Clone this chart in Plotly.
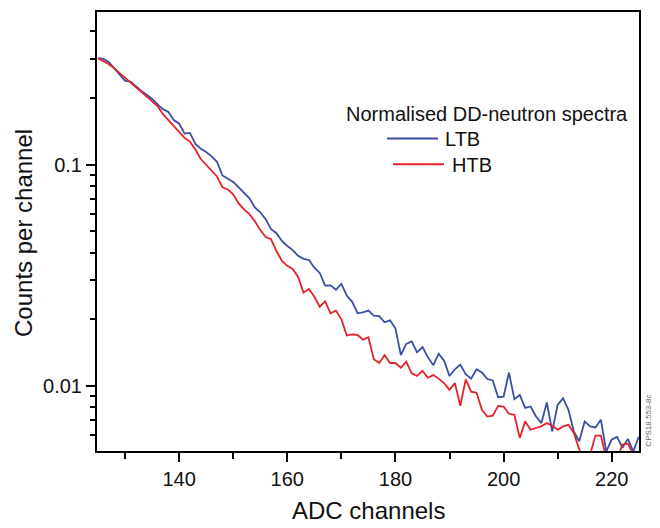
import plotly.graph_objects as go

# ADC channel numbers
channels = list(range(125, 226))

# Normalised DD-neutron spectra (counts per channel)
ltb = [
    0.303, 0.300, 0.290, 0.272, 0.256, 0.239, 0.237, 0.225, 0.215, 0.207,   # 125-134
    0.198, 0.187, 0.178, 0.173, 0.159, 0.153, 0.138, 0.139, 0.124, 0.118,   # 135-144
    0.114, 0.109, 0.103, 0.0893, 0.0865, 0.0835, 0.0789, 0.0749, 0.0704, 0.0641,  # 145-154
    0.0609, 0.0567, 0.0511, 0.0490, 0.0452, 0.0429, 0.0411, 0.0387, 0.0375, 0.0371,  # 155-164
    0.0342, 0.0324, 0.0284, 0.0285, 0.0272, 0.0289, 0.0256, 0.0240, 0.0213, 0.0215,  # 165-174
    0.0219, 0.0208, 0.0207, 0.0194, 0.0198, 0.0182, 0.0138, 0.0155, 0.0159, 0.0142,  # 175-184
    0.0150, 0.0135, 0.0124, 0.0140, 0.0130, 0.0111, 0.0119, 0.0125, 0.0113, 0.0108,  # 185-194
    0.0119, 0.0115, 0.01075, 0.0106, 0.0089, 0.00895, 0.0115, 0.00872, 0.00911, 0.00797,  # 195-204
    0.00808, 0.00728, 0.00680, 0.00842, 0.00624, 0.00822, 0.00881, 0.00780, 0.00624, 0.00563,  # 205-214
    0.00692, 0.00657, 0.00650, 0.00704, 0.00506, 0.00573, 0.00589, 0.00526, 0.00577, 0.00506,  # 215-224
    0.0059,  # 225
]

htb = [
    0.302, 0.293, 0.284, 0.272, 0.259, 0.246, 0.234, 0.224, 0.213, 0.204,   # 125-134
    0.194, 0.184, 0.169, 0.159, 0.150, 0.141, 0.132, 0.127, 0.117, 0.106,   # 135-144
    0.100, 0.0947, 0.0884, 0.0789, 0.0772, 0.0734, 0.0668, 0.0628, 0.0597, 0.0555,  # 145-154
    0.0506, 0.0471, 0.0460, 0.0407, 0.0367, 0.0349, 0.0338, 0.0311, 0.0264, 0.0274,  # 155-164
    0.0253, 0.0228, 0.0241, 0.0213, 0.0219, 0.0200, 0.0169, 0.0171, 0.0170, 0.0162,  # 165-174
    0.0166, 0.0132, 0.0127, 0.0138, 0.0127, 0.0127, 0.0121, 0.0129, 0.0114, 0.0111,  # 175-184
    0.0117, 0.0109, 0.0112, 0.0108, 0.0103, 0.0096, 0.0103, 0.00813, 0.0107, 0.00943,  # 185-194
    0.00933, 0.00780, 0.00728, 0.00734, 0.00813, 0.00808, 0.00749, 0.00741, 0.00583, 0.00692,  # 195-204
    0.00635, 0.00646, 0.00657, 0.00680, 0.00662, 0.00635, 0.00657, 0.00668, 0.00614, 0.00516,  # 205-214
    0.0046, 0.0049, 0.00597, 0.00597, 0.0047, 0.0045, 0.0047, 0.00544, 0.00549, 0.0049,  # 215-224
    0.0047,  # 225
]

series_names = ["LTB", "HTB"]
series_colors = ["#3a4fa3", "#e8202a"]
legend_title = "Normalised DD-neutron spectra"

x_major = [140, 160, 180, 200, 220]
x_minor = [130, 150, 170, 190, 210]
y_major = [0.01, 0.1]
y_major_text = ["0.01", "0.1"]
y_minor = [0.006, 0.007, 0.008, 0.009, 0.02, 0.03, 0.04, 0.05, 0.06, 0.07,
           0.08, 0.09, 0.2, 0.3, 0.4]

FONT = "Liberation Sans, Arial, sans-serif"

fig = go.Figure()
for name, ys, col in zip(series_names, [ltb, htb], series_colors):
    fig.add_trace(go.Scatter(x=channels, y=ys, mode="lines", name=name,
                             line=dict(color=col, width=1.8),
                             showlegend=False))

W, H = 660, 528
L, R, T, B = 97, 21, 10, 77
pw, ph = W - L - R, H - T - B


def px(xp):
    return (xp - L) / pw


def py(yp):
    return (H - B - yp) / ph


fig.update_layout(
    width=W, height=H,
    margin=dict(l=L, r=R, t=T, b=B, pad=0),
    paper_bgcolor="white", plot_bgcolor="white",
    font=dict(family=FONT, size=20, color="#111"),
    showlegend=False,
    xaxis=dict(
        range=[124.8, 225.05], showgrid=False, zeroline=False,
        showline=True, linecolor="black", linewidth=2, mirror=True,
        ticks="outside", ticklen=9, tickwidth=2, tickcolor="black",
        tickmode="array", tickvals=x_major,
        tickfont=dict(size=20, family=FONT, color="#111"),
        minor=dict(tickmode="array", tickvals=x_minor, ticks="outside",
                   ticklen=6, tickwidth=2, tickcolor="black", showgrid=False),
    ),
    yaxis=dict(
        type="log", range=[-2.2936, -0.3107], showgrid=False, zeroline=False,
        showline=True, linecolor="black", linewidth=2, mirror=True,
        ticks="outside", ticklen=9, tickwidth=2, tickcolor="black",
        tickmode="array", tickvals=y_major, ticktext=y_major_text,
        tickfont=dict(size=20, family=FONT, color="#111"),
        minor=dict(tickmode="array", tickvals=y_minor, ticks="outside",
                   ticklen=5, tickwidth=2, tickcolor="black", showgrid=False),
    ),
)

annotations = [
    dict(text="ADC channels", x=px(368), y=py(511), xref="paper", yref="paper",
         xanchor="center", yanchor="middle", showarrow=False,
         font=dict(size=24, family=FONT, color="#111")),
    dict(text="Counts per channel", x=px(24), y=py(232), xref="paper", yref="paper",
         xanchor="center", yanchor="middle", showarrow=False, textangle=-90,
         font=dict(size=24, family=FONT, color="#111")),
    dict(text=legend_title, x=px(344), y=py(112), xref="paper", yref="paper",
         xanchor="left", yanchor="middle", showarrow=False,
         font=dict(size=20, family=FONT, color="#111")),
    dict(text=series_names[0], x=px(443), y=py(138), xref="paper", yref="paper",
         xanchor="left", yanchor="middle", showarrow=False,
         font=dict(size=20, family=FONT, color="#111")),
    dict(text=series_names[1], x=px(450), y=py(164), xref="paper", yref="paper",
         xanchor="left", yanchor="middle", showarrow=False,
         font=dict(size=20, family=FONT, color="#111")),
    dict(text="CPS18.553-8c", x=px(648.5), y=py(421), xref="paper", yref="paper",
         xanchor="center", yanchor="middle", showarrow=False, textangle=-90,
         font=dict(size=8, family=FONT, color="#666")),
]
fig.update_layout(annotations=annotations)

fig.add_shape(type="line", xref="paper", yref="paper",
              x0=px(387), x1=px(438), y0=py(137), y1=py(137),
              line=dict(color=series_colors[0], width=2))
fig.add_shape(type="line", xref="paper", yref="paper",
              x0=px(393), x1=px(444), y0=py(163), y1=py(163),
              line=dict(color=series_colors[1], width=2))

fig.write_html("out.html")
